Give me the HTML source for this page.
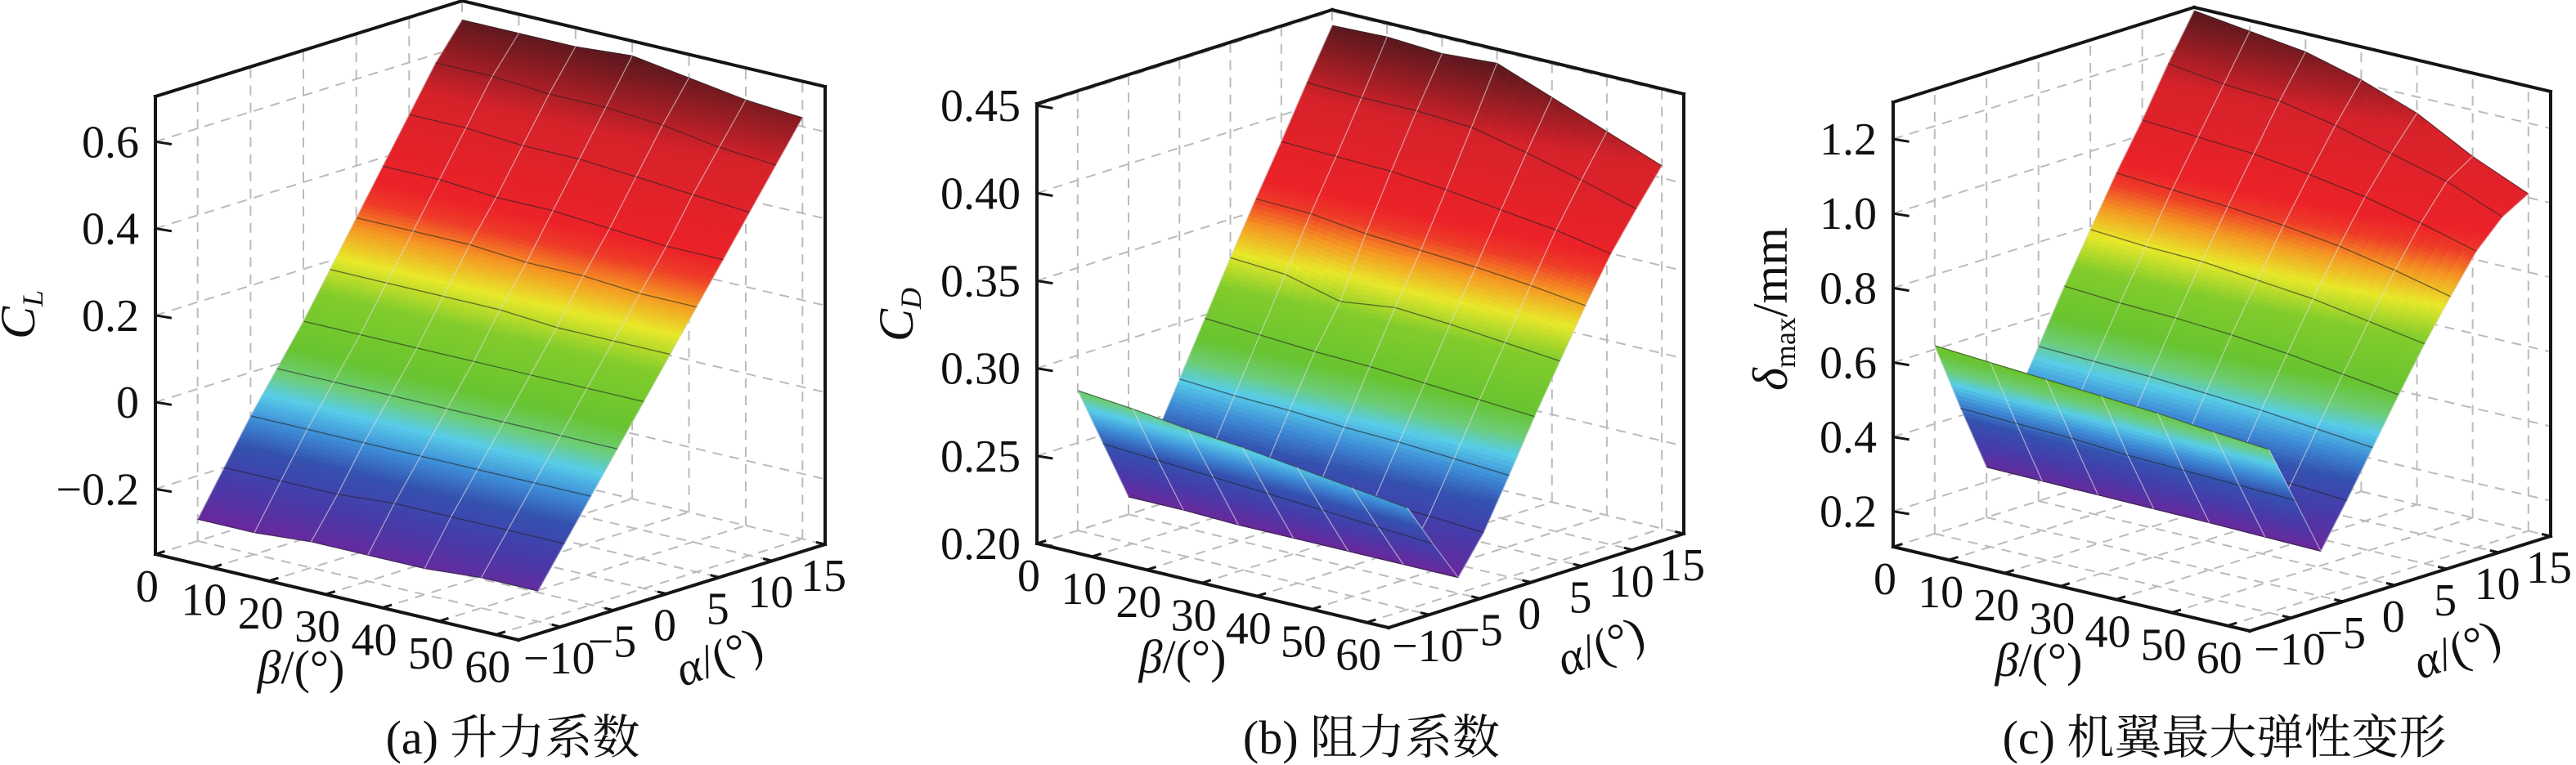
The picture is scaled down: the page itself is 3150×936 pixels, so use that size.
<!DOCTYPE html>
<html><head><meta charset="utf-8">
<style>
html,body{margin:0;padding:0;background:#fff;}
svg{display:block;}
text{font-family:"Liberation Serif","Noto Serif CJK SC",serif;fill:#111;}
</style></head>
<body>
<svg id="fig" width="3150" height="936" viewBox="0 0 3150 936" xmlns="http://www.w3.org/2000/svg"></svg>
<script>
// ---- data ----
const betaVals = [0,10,20,30,40,50,60];
const alphaVals = [-10,-7.5,-5,-2.5,0,2.5,5,7.5,10,12.5,15];
const betaTicks = [0,10,20,30,40,50,60];
const alphaTicks = [-10,-5,0,5,10,15];
// lift coefficient C_L rows = alpha, cols = beta
const liftCL = [
 [-0.30,-0.30,-0.29,-0.29,-0.29,-0.28,-0.28],
 [-0.20,-0.20,-0.20,-0.19,-0.19,-0.19,-0.19],
 [-0.10,-0.10,-0.10,-0.10,-0.10,-0.10,-0.10],
 [-0.01,-0.01,-0.01,-0.01,-0.01,-0.01,-0.01],
 [0.08,0.08,0.08,0.08,0.08,0.08,0.08],
 [0.18,0.18,0.18,0.18,0.17,0.17,0.17],
 [0.28,0.28,0.28,0.27,0.27,0.26,0.26],
 [0.38,0.38,0.37,0.37,0.36,0.35,0.35],
 [0.48,0.48,0.47,0.47,0.46,0.45,0.44],
 [0.58,0.58,0.57,0.57,0.56,0.54,0.53],
 [0.66,0.66,0.66,0.67,0.65,0.63,0.62]];
const dragCD = [
 [0.280,0.277,0.273,0.270,0.266,0.262,0.258],
 [0.245,0.243,0.241,0.239,0.237,0.235,0.233],
 [0.210,0.210,0.209,0.209,0.209,0.209,0.209],
 [0.238,0.236,0.235,0.234,0.233,0.232,0.230],
 [0.268,0.266,0.265,0.263,0.262,0.260,0.258],
 [0.298,0.296,0.294,0.293,0.291,0.289,0.287],
 [0.328,0.326,0.318,0.322,0.320,0.317,0.314],
 [0.357,0.356,0.352,0.350,0.348,0.345,0.341],
 [0.385,0.384,0.383,0.380,0.376,0.372,0.366],
 [0.414,0.413,0.413,0.411,0.404,0.396,0.387],
 [0.442,0.443,0.441,0.443,0.431,0.419,0.407]];
const deformD = [
 [0.61,0.60,0.59,0.58,0.57,0.555,0.543],
 [0.42,0.415,0.41,0.40,0.395,0.39,0.385],
 [0.24,0.238,0.236,0.234,0.232,0.229,0.226],
 [0.38,0.375,0.37,0.36,0.355,0.35,0.34],
 [0.52,0.515,0.51,0.50,0.49,0.475,0.46],
 [0.66,0.65,0.645,0.635,0.62,0.60,0.58],
 [0.79,0.78,0.775,0.76,0.745,0.72,0.695],
 [0.92,0.91,0.90,0.885,0.865,0.835,0.80],
 [1.04,1.03,1.02,1.00,0.975,0.94,0.90],
 [1.17,1.15,1.14,1.11,1.07,1.03,0.97],
 [1.29,1.27,1.25,1.21,1.156,1.075,1.01]];
const zTicksA = [-0.2,0,0.2,0.4,0.6];
const zLabelsA = ["\u22120.2","0","0.2","0.4","0.6"];
const zTicksB = [0.20,0.25,0.30,0.35,0.40,0.45];
const zLabelsB = ["0.20","0.25","0.30","0.35","0.40","0.45"];
const zTicksC = [0.2,0.4,0.6,0.8,1.0,1.2];
const zLabelsC = ["0.2","0.4","0.6","0.8","1.0","1.2"];

const NS = "http://www.w3.org/2000/svg";
const svg = document.getElementById('fig');
function mk(tag, attrs, parent){ const e=document.createElementNS(NS,tag); for(const k in attrs) e.setAttribute(k,attrs[k]); (parent||svg).appendChild(e); return e; }

const stops = [[0,[106,40,156]],[0.08,[70,60,170]],[0.15,[52,82,176]],[0.2,[62,140,214]],[0.25,[88,205,232]],[0.29,[108,205,120]],[0.34,[104,196,48]],[0.45,[130,204,44]],[0.52,[232,232,42]],[0.58,[245,150,35]],[0.63,[238,60,40]],[0.67,[236,34,41]],[0.85,[214,34,42]],[1,[88,24,30]]];
function cmap(t){ t=Math.max(0,Math.min(1,t)); for(let i=1;i<stops.length;i++){ if(t<=stops[i][0]){ const a=stops[i-1],b=stops[i]; const f=(t-a[0])/(b[0]-a[0]); const c=a[1].map((v,j)=>Math.round(v+(b[1][j]-v)*f)); return `rgb(${c[0]},${c[1]},${c[2]})`; } } return 'rgb(88,24,30)'; }

const FS=56;
const panels = [
 {id:'a', ox:190, oy:678, bv:[444,105], av:[375,-117], zh:560, zmin:-0.35, zmax:0.704, data:liftCL, zt:zTicksA, zl:zLabelsA, cap:"(a) 升力系数", capx:627, title:'CL'},
 {id:'b', ox:1268, oy:665, bv:[430,103], av:[361,-115], zh:538, zmin:0.2, zmax:0.451, data:dragCD, zt:zTicksB, zl:zLabelsB, cap:"(b) 阻力系数", capx:1677, title:'CD'},
 {id:'c', ox:2315, oy:669, bv:[436,103], av:[368,-116], zh:544, zmin:0.105, zmax:1.299, data:deformD, zt:zTicksC, zl:zLabelsC, cap:"(c) 机翼最大弹性变形", capx:2720, title:'dm'}
];
const BMIN=0,BMAX=64,AMIN=-14,AMAX=15;

panels.forEach(P=>{
 const g = mk('g',{});
 
 
 const pr=(b,a,z)=>{ const fb=(b-BMIN)/(BMAX-BMIN), fa=(a-AMIN)/(AMAX-AMIN), fz=(z-P.zmin)/(P.zmax-P.zmin);
   return [P.ox+fb*P.bv[0]+fa*P.av[0], P.oy+fb*P.bv[1]+fa*P.av[1]-fz*P.zh]; };
 const line=(p,q,attrs,parent)=>mk('line',Object.assign({x1:p[0].toFixed(1),y1:p[1].toFixed(1),x2:q[0].toFixed(1),y2:q[1].toFixed(1)},attrs),parent);
 const grid = mk('g',{},g);
 
 
 const ds={stroke:'#bbb','stroke-width':2,'stroke-dasharray':'12,9',fill:'none'};
 P.zt.forEach(z=>{ line(pr(BMIN,AMIN,z),pr(BMIN,AMAX,z),ds,grid); line(pr(BMIN,AMAX,z),pr(BMAX,AMAX,z),ds,grid); });
 alphaTicks.forEach(a=>{ line(pr(BMIN,a,P.zmin),pr(BMIN,a,P.zmax),ds,grid); line(pr(BMIN,a,P.zmin),pr(BMAX,a,P.zmin),ds,grid); });
 betaTicks.forEach(b=>{ line(pr(b,AMAX,P.zmin),pr(b,AMAX,P.zmax),ds,grid); line(pr(b,AMIN,P.zmin),pr(b,AMAX,P.zmin),ds,grid); });
 const surf = mk('g',{},g);
 
 
 const D=P.data; let zlo=Infinity,zhi=-Infinity; D.forEach(r=>r.forEach(v=>{zlo=Math.min(zlo,v);zhi=Math.max(zhi,v);}));
 const cells=[];
 for(let i=0;i<alphaVals.length-1;i++) for(let j=0;j<betaVals.length-1;j++){
   const bc=(betaVals[j]+betaVals[j+1])/2, ac=(alphaVals[i]+alphaVals[i+1])/2;
   cells.push({i,j,depth:pr(bc,ac,P.zmin)[1]});
 }
 cells.sort((x,y)=>x.depth-y.depth);
 const NB=5, NA=14;
 cells.forEach(c=>{
   const {i,j}=c; const b0=betaVals[j],b1=betaVals[j+1],a0=alphaVals[i],a1=alphaVals[i+1];
   const z00=D[i][j],z01=D[i][j+1],z10=D[i+1][j],z11=D[i+1][j+1];
   const Z=(u,v)=>z00*(1-u)*(1-v)+z01*u*(1-v)+z10*(1-u)*v+z11*u*v;
   const P3=(u,v)=>pr(b0+(b1-b0)*u,a0+(a1-a0)*v,Z(u,v));
   const cg=mk('g',{},surf);
   for(let m=0;m<NA;m++) for(let n=0;n<NB;n++){
     const u0=n/NB,u1=(n+1)/NB,v0=m/NA,v1=(m+1)/NA;
     const pts=[P3(u0,v0),P3(u1,v0),P3(u1,v1),P3(u0,v1)];
     const col=cmap((Z((u0+u1)/2,(v0+v1)/2)-zlo)/(zhi-zlo));
     mk('polygon',{points:pts.map(p=>p[0].toFixed(1)+','+p[1].toFixed(1)).join(' '),fill:col,stroke:col,'stroke-width':0.8},cg);
   }
   const dark={stroke:'#222','stroke-opacity':0.55,'stroke-width':1.3};
   const light={stroke:'#ddd','stroke-opacity':0.6,'stroke-width':1.2};
   line(P3(0,0),P3(1,0),dark,cg); line(P3(0,1),P3(1,1),dark,cg);
   line(P3(0,0),P3(0,1),light,cg); line(P3(1,0),P3(1,1),light,cg);
 });
 const fr=mk('g',{},g);
 
 
 const fs={stroke:'#151515','stroke-width':4,'stroke-linecap':'square'};
 line(pr(BMIN,AMIN,P.zmin),pr(BMIN,AMIN,P.zmax),fs,fr);
 line(pr(BMIN,AMIN,P.zmax),pr(BMIN,AMAX,P.zmax),fs,fr);
 line(pr(BMIN,AMAX,P.zmax),pr(BMAX,AMAX,P.zmax),fs,fr);
 line(pr(BMAX,AMAX,P.zmin),pr(BMAX,AMAX,P.zmax),fs,fr);
 line(pr(BMIN,AMIN,P.zmin),pr(BMAX,AMIN,P.zmin),fs,fr);
 line(pr(BMAX,AMIN,P.zmin),pr(BMAX,AMAX,P.zmin),fs,fr);
 const ts={stroke:'#151515','stroke-width':3};
 P.zt.forEach((z,k)=>{
   const p=pr(BMIN,AMIN,z); const q=pr(BMIN+2,AMIN,z); line(p,[q[0]+6,q[1]],ts,fr);
   const t=mk('text',{x:(p[0]-20).toFixed(1),y:(p[1]+19).toFixed(1),'font-size':FS,'text-anchor':'end'},g);
   
   
   t.textContent=P.zl[k];
 });
 betaTicks.forEach(b=>{
   const p=pr(b,AMIN,P.zmin); const q=pr(b,AMIN+0.9,P.zmin); line(p,q,ts,fr);
   const t=mk('text',{x:(p[0]-10).toFixed(1),y:(p[1]+58).toFixed(1),'font-size':FS,'text-anchor':'middle'},g);
   
   
   t.textContent=String(b);
 });
 alphaTicks.forEach(a=>{
   const p=pr(BMAX,a,P.zmin); const q=pr(BMAX-1.6,a,P.zmin); line(p,q,ts,fr);
   const t=mk('text',{x:(p[0]-2).toFixed(1),y:(p[1]+57).toFixed(1),'font-size':FS,'text-anchor':'middle'},g);
   
   
   t.textContent=a<0?('\u2212'+(-a)):String(a);
 });
 const bt=mk('text',{x:P.ox+178,y:P.oy+158,'font-size':58,'text-anchor':'middle'},g);
 
 
 bt.innerHTML='<tspan font-style="italic">β</tspan>/(°)';
 const at=mk('text',{x:P.ox+690,y:P.oy+145,'font-size':58,'text-anchor':'middle',transform:`rotate(-20 ${P.ox+690} ${P.oy+128})`},g);
 
 
 at.innerHTML='<tspan font-style="italic">α</tspan>/(°)';
 let tx, ty=385;
 if(P.title==='CL'){tx=P.ox-148;} else if(P.title==='CD'){tx=P.ox-152;} else {tx=P.ox-130; ty=378;}
 const zt2=mk('text',{x:tx,y:ty,'font-size':60,'text-anchor':'middle',transform:`rotate(-90 ${tx} ${ty})`},g);
 
 
 if(P.title==='CL') zt2.innerHTML='<tspan font-style="italic">C</tspan><tspan font-style="italic" font-size="36" dy="10">L</tspan>';
 else if(P.title==='CD') zt2.innerHTML='<tspan font-style="italic">C</tspan><tspan font-style="italic" font-size="36" dy="10">D</tspan>';
 else zt2.innerHTML='<tspan font-style="italic">δ</tspan><tspan font-size="36" dy="10">max</tspan><tspan dy="-10">/mm</tspan>';
 const cp=mk('text',{x:P.capx,y:922,'font-size':58,'text-anchor':'middle'},g);
 
 
 cp.textContent=P.cap;
});
</script>
</body></html>
